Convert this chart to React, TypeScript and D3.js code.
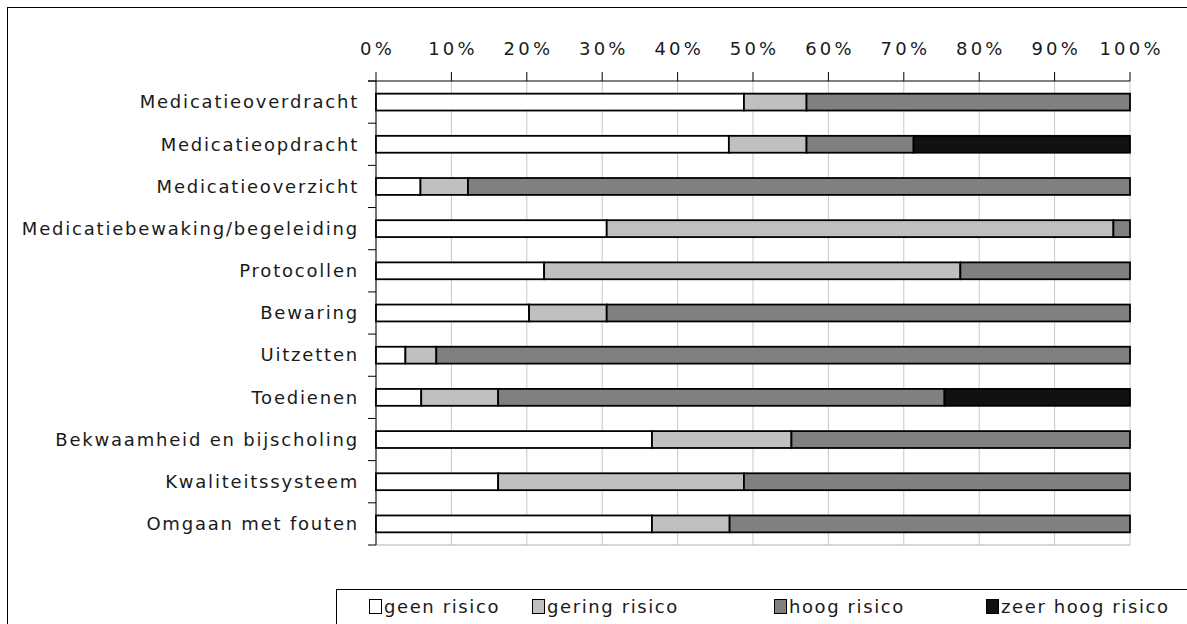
import React from "react";
import * as d3 from "d3";

const categories = [
  "Medicatieoverdracht",
  "Medicatieopdracht",
  "Medicatieoverzicht",
  "Medicatiebewaking/begeleiding",
  "Protocollen",
  "Bewaring",
  "Uitzetten",
  "Toedienen",
  "Bekwaamheid en bijscholing",
  "Kwaliteitssysteem",
  "Omgaan met fouten",
];

const seriesNames = ["geen risico", "gering risico", "hoog risico", "zeer hoog risico"];
const seriesColors = ["#ffffff", "#c0c0c0", "#808080", "#111111"];

const geenRisico = [48.8, 46.8, 5.9, 30.6, 22.3, 20.3, 3.9, 6.0, 36.6, 16.2, 36.6];
const geringRisico = [8.3, 10.3, 6.3, 67.2, 55.2, 10.3, 4.1, 10.2, 18.5, 32.6, 10.3];
const hoogRisico = [42.9, 14.2, 87.8, 2.2, 22.5, 69.4, 92.0, 59.2, 44.9, 51.2, 53.1];
const zeerHoogRisico = [0, 28.7, 0, 0, 0, 0, 0, 24.6, 0, 0, 0];

const xTicks = [0, 10, 20, 30, 40, 50, 60, 70, 80, 90, 100];

const W = 1187;
const H = 624;
const font = "'DejaVu Sans', Verdana, sans-serif";

const App: React.FC = () => {
  const left = 376;
  const right = 1130;
  const top = 81;
  const bottom = 545;

  const x = d3.scaleLinear().domain([0, 100]).range([left, right]);
  const y = d3.scaleBand<string>().domain(categories).range([top, bottom]).paddingInner(0.6).paddingOuter(0.3);
  const yOuter = d3.scaleBand<string>().domain(categories).range([top, bottom]);

  const rows = categories.map((c, i) => {
    const vals = [geenRisico[i], geringRisico[i], hoogRisico[i], zeerHoogRisico[i]];
    const total = d3.sum(vals);
    let acc = 0;
    return vals.map((v, k) => {
      const start = (acc / total) * 100;
      acc += v;
      const end = (acc / total) * 100;
      return { cat: c, k, start, end, v };
    });
  });

  const legendX = [369, 532, 774, 986];
  const tickSpacing = 3.2;

  return (
    <svg width={W} height={H} style={{ position: "absolute", left: 0, top: 0 }} fontFamily={font}>
      <rect x={0} y={0} width={W} height={H} fill="#fff" />
      <rect x={7.5} y={7.5} width={1300} height={800} fill="none" stroke="#000" strokeWidth={1} />

      {/* gridlines */}
      {xTicks.map((t) => (
        <line key={"g" + t} x1={x(t)} x2={x(t)} y1={top} y2={bottom} stroke="#c8c8c8" strokeWidth={1} />
      ))}
      <line x1={left} x2={right} y1={bottom} y2={bottom} stroke="#b0b0b0" strokeWidth={1} />

      {/* top axis */}
      <line x1={368} x2={right} y1={top} y2={top} stroke="#000" strokeWidth={1} />
      {xTicks.map((t) => (
        <g key={"t" + t}>
          <line x1={x(t)} x2={x(t)} y1={top - 9} y2={top} stroke="#000" strokeWidth={1} />
          <text
            x={x(t) + tickSpacing / 2}
            y={55}
            textAnchor="middle"
            fontSize={18}
            letterSpacing={tickSpacing}
            fill="#1a1a1a"
          >
            {t + "%"}
          </text>
        </g>
      ))}

      {/* left axis */}
      <line x1={left} x2={left} y1={top} y2={bottom} stroke="#000" strokeWidth={1} />
      {[...categories.map((c) => yOuter(c) as number), bottom].map((yy, i) => (
        <line key={"lt" + i} x1={368} x2={left} y1={yy} y2={yy} stroke="#000" strokeWidth={1} />
      ))}
      {categories.map((c) => (
        <text
          key={"l" + c}
          x={359}
          y={(yOuter(c) as number) + yOuter.bandwidth() / 2}
          dy="0.35em"
          textAnchor="end"
          fontSize={18}
          letterSpacing={1.8}
          fill="#1a1a1a"
        >
          {c}
        </text>
      ))}

      {/* bars */}
      {rows.map((segs) =>
        segs
          .filter((s) => s.v > 0)
          .map((s) => (
            <rect
              key={s.cat + s.k}
              x={x(s.start)}
              y={y(s.cat)}
              width={x(s.end) - x(s.start)}
              height={y.bandwidth()}
              fill={seriesColors[s.k]}
              stroke="#000"
              strokeWidth={1.8}
            />
          ))
      )}

      {/* legend */}
      <rect x={336.5} y={589.5} width={900} height={100} fill="#fff" stroke="#000" strokeWidth={1} />
      {seriesNames.map((n, i) => (
        <g key={"lg" + n}>
          <rect x={legendX[i] + 0.5} y={599.5} width={12} height={14} fill={seriesColors[i]} stroke="#000" strokeWidth={1} />
          <text x={legendX[i] + 15} y={613} fontSize={18} letterSpacing={1.6} fill="#1a1a1a">
            {n}
          </text>
        </g>
      ))}
    </svg>
  );
};

export default App;
